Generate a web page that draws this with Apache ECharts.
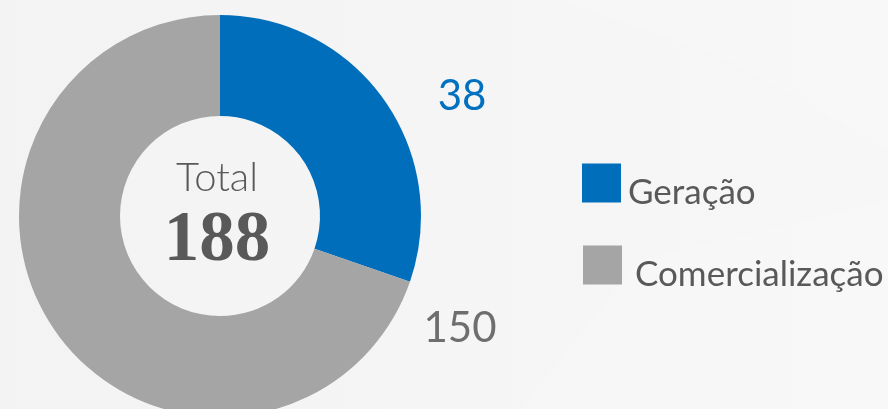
<!DOCTYPE html>
<html>
<head>
<meta charset="utf-8">
<script src="https://cdn.jsdelivr.net/npm/echarts@6/dist/echarts.min.js"></script>
<style>
html,body{margin:0;padding:0;background:#f4f4f4;}
#chart{width:888px;height:409px;}
</style>
</head>
<body>
<div id="chart"></div>
<script>
// Categories and values
const categories = ['Geração', 'Comercialização'];
const labelValues = [38, 150];           // value labels printed next to the ring
const sliceShares = [30.3, 69.7];        // share of the ring each slice occupies in the picture (%)
const totalLabel = 'Total';
const totalValue = 188;
const colors = ['#006EBA', '#A5A5A5'];
const labelColors = ['#0070C0', '#6E6E6E'];

const chart = echarts.init(document.getElementById('chart'), null, {renderer: 'canvas'});

function legendStyle(gap) {
  return {
    rich: {
      s: {width: gap, height: 54, lineHeight: 54},
      t: {fontFamily: 'Lato', fontSize: 35, color: '#595959', verticalAlign: 'bottom', lineHeight: 42}
    }
  };
}

const option = {
  backgroundColor: {
    type: 'linear', x: 0, y: 0, x2: 1, y2: 0,
    colorStops: [{offset: 0, color: '#f3f3f3'}, {offset: 1, color: '#f7f7f7'}]
  },
  animation: false,
  graphic: [
    {type: 'polygon', silent: true, z: -10, shape: {points: [[560, 0], [888, 0], [888, 150], [730, 60]]}, style: {fill: 'rgba(255,255,255,0.18)'}},
    {type: 'polygon', silent: true, z: -10, shape: {points: [[520, 409], [640, 260], [888, 200], [888, 409]]}, style: {fill: 'rgba(255,255,255,0.15)'}},
    {type: 'text', z: 10, style: {text: totalLabel, x: 217, y: 178, textAlign: 'center', textVerticalAlign: 'middle', font: '300 40px Lato', fill: '#595959'}},
    {type: 'text', z: 10, style: {text: String(totalValue), x: 217, y: 242, textAlign: 'center', textVerticalAlign: 'middle', font: 'bold 71px "Liberation Serif"', fill: '#595959'}}
  ],
  legend: [
    {
      data: [categories[0]], left: 577, top: 151, orient: 'vertical',
      icon: 'rect', itemWidth: 39, itemHeight: 39, itemGap: 10,
      formatter: '{s|}{t|{name}}',
      textStyle: legendStyle(2),
      selectedMode: false
    },
    {
      data: [categories[1]], left: 578, top: 233, orient: 'vertical',
      icon: 'rect', itemWidth: 39, itemHeight: 39, itemGap: 10,
      formatter: '{s|}{t|{name}}',
      textStyle: legendStyle(8),
      selectedMode: false
    }
  ],
  series: [{
    type: 'pie',
    center: [220, 216],
    radius: [100, 201],
    startAngle: 90,
    clockwise: true,
    silent: true,
    avoidLabelOverlap: false,
    itemStyle: {borderWidth: 0},
    labelLine: {show: false},
    label: {
      show: true,
      position: 'outside',
      fontFamily: 'Lato',
      fontSize: 42,
      formatter: p => String(labelValues[p.dataIndex])
    },
    labelLayout: function (params) {
      const pos = [[462, 96], [460, 328]];
      const p = pos[params.dataIndex];
      return {x: p[0], y: p[1], align: 'center', verticalAlign: 'middle'};
    },
    data: categories.map((name, i) => ({
      name: name,
      value: sliceShares[i],
      itemStyle: {color: colors[i]},
      label: {color: labelColors[i]}
    }))
  }]
};
chart.setOption(option);
</script>
</body>
</html>
